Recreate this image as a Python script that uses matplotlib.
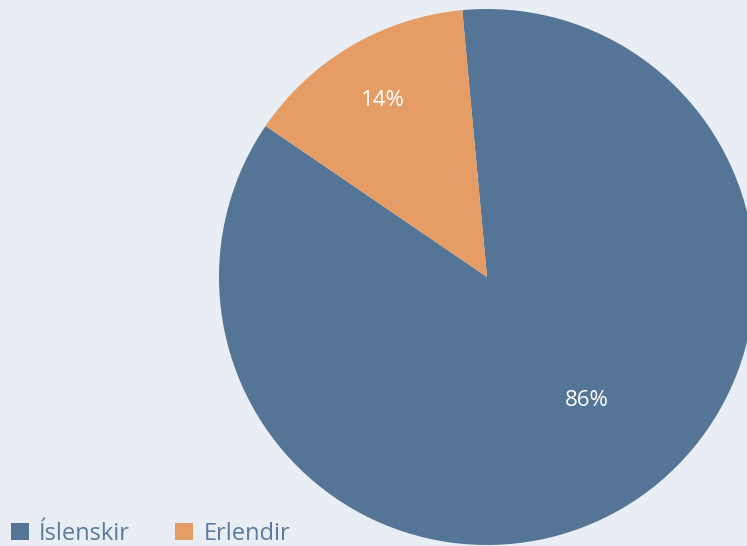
import matplotlib.pyplot as plt
from matplotlib.patches import Patch

labels = ['Íslenskir', 'Erlendir']
shares = [86, 14]
colors = ['#557596', '#e69c65']
bg = '#e8eef3'

fig = plt.figure(figsize=(7.47, 5.46), dpi=100, facecolor=bg)
ax = fig.add_axes([0, 0, 1, 1])
ax.set_facecolor(bg)

wedges, texts, autotexts = ax.pie(
    shares,
    colors=colors,
    startangle=145.7,
    center=(487, 269),
    radius=268,
    autopct='%1.0f%%',
    pctdistance=0.765,
    frame=True,
)
ax.set_xlim(0, 747)
ax.set_ylim(0, 546)
ax.set_aspect('equal')
ax.axis('off')
for t in autotexts:
    t.set_color('white')
    t.set_fontsize(16)
    t.set_family('Open Sans')
# the big slice label sits lower right
autotexts[0].set_position((587, 146))

handles = [Patch(facecolor=c, label=l) for c, l in zip(colors, labels)]
leg = fig.legend(
    handles=handles,
    loc='lower left',
    bbox_to_anchor=(11 / 747, 0.0),
    ncol=2,
    frameon=False,
    borderpad=0,
    borderaxespad=0,
    handlelength=0.75,
    handleheight=0.75,
    handletextpad=0.45,
    columnspacing=1.9,
    prop=dict(family='Open Sans', size=17),
)
for t in leg.get_texts():
    t.set_color('#5a7a9e')

fig.savefig('out.png', dpi=100, facecolor=bg)
